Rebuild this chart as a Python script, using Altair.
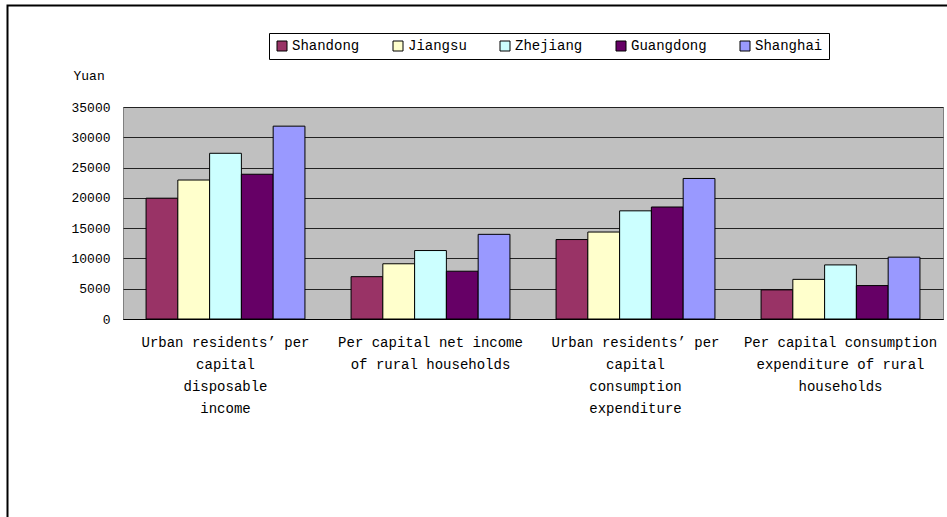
import json
import altair as alt
import pandas as pd

categories = [
    "Urban residents’ per capital disposable income",
    "Per capital net income of rural households",
    "Urban residents’ per capital consumption expenditure",
    "Per capital consumption expenditure of rural households",
]
category_lines = [
    ["Urban residents’ per", "capital", "disposable", "income"],
    ["Per capital net income", "of rural households"],
    ["Urban residents’ per", "capital", "consumption", "expenditure"],
    ["Per capital consumption", "expenditure of rural", "households"],
]
provinces = ["Shandong", "Jiangsu", "Zhejiang", "Guangdong", "Shanghai"]
colors = ["#993366", "#FFFFCC", "#CCFFFF", "#660066", "#9999FF"]

shandong = [19946, 6990, 13118, 4807]
jiangsu = [22944, 9118, 14357, 6543]
zhejiang = [27359, 11303, 17858, 8928]
guangdong = [23898, 7890, 18490, 5516]
shanghai = [31838, 13978, 23200, 10211]
y_ticks = [0, 5000, 10000, 15000, 20000, 25000, 30000, 35000]

series = [shandong, jiangsu, zhejiang, guangdong, shanghai]
rows = []
for p, vals in zip(provinces, series):
    for c, v in zip(categories, vals):
        rows.append({"category": c, "province": p, "value": v})
df = pd.DataFrame(rows)

# label expression for multi-line category labels
expr = "datum.value"
for c, lines in reversed(list(zip(categories, category_lines))):
    expr = f"datum.value == {json.dumps(c)} ? {json.dumps(lines)} : ({expr})"

FONT = "Liberation Mono"

bars = alt.Chart(df).mark_bar(stroke="black", strokeWidth=1).encode(
    x=alt.X(
        "category:N",
        sort=categories,
        scale=alt.Scale(paddingInner=0.225, paddingOuter=0.1125),
        axis=alt.Axis(
            title=None,
            labelAngle=0,
            labelExpr=expr,
            labelFont=FONT,
            labelFontSize=14,
            labelColor="black",
            labelLineHeight=22,
            labelPadding=16,
            labelLimit=300,
            labelBaseline="top",
            ticks=False,
            tickSize=0,
            domainColor="black",
            domainWidth=1,
            grid=False,
        ),
    ),
    xOffset=alt.XOffset("province:N", sort=provinces, scale=alt.Scale(padding=0, paddingInner=0)),
    y=alt.Y(
        "value:Q",
        scale=alt.Scale(domain=[0, 35000], nice=False),
        axis=alt.Axis(
            title="Yuan",
            titleAngle=0,
            titleAlign="left",
            titleBaseline="middle",
            titleX=-50,
            titleY=-32,
            titleFont=FONT,
            titleFontSize=13,
            titleFontWeight="normal",
            titleColor="black",
            values=y_ticks,
            format="d",
            labelFont=FONT,
            labelFontSize=13,
            labelColor="black",
            labelPadding=13,
            ticks=False,
            tickSize=0,
            domain=False,
            grid=True,
            gridColor="#222222",
            gridWidth=1,
            gridOpacity=1,
        ),
    ),
    color=alt.Color(
        "province:N",
        sort=provinces,
        scale=alt.Scale(domain=provinces, range=colors),
        legend=alt.Legend(
            title=None,
            orient="none",
            legendX=146,
            legendY=-74,
            direction="horizontal",
            columns=5,
            columnPadding=31,
            padding=6,
            strokeColor="black",
            fillColor="white",
            labelFont=FONT,
            labelFontSize=14,
            labelColor="black",
            labelOffset=3,
            symbolType="square",
            symbolSize=100,
            symbolStrokeColor="black",
            symbolStrokeWidth=1,
            symbolOpacity=1,
        ),
    ),
)

frame = alt.Chart(pd.DataFrame({"a": [0]})).mark_rect(
    fill=None, stroke="black", strokeWidth=2, clip=False
).encode(
    x=alt.value(-115.5),
    x2=alt.value(900),
    y=alt.value(-101.5),
    y2=alt.value(430),
)

chart = alt.layer(bars, frame).properties(
    width=820,
    height=212,
    autosize=alt.AutoSizeParams(type="none"),
    padding={"left": 123, "top": 107, "right": 4, "bottom": 198},
    background="white",
).configure_view(
    fill="#C0C0C0",
    stroke="#808080",
    strokeWidth=1,
)

chart.save("out.html", embed_options={"renderer": "svg", "actions": False})
